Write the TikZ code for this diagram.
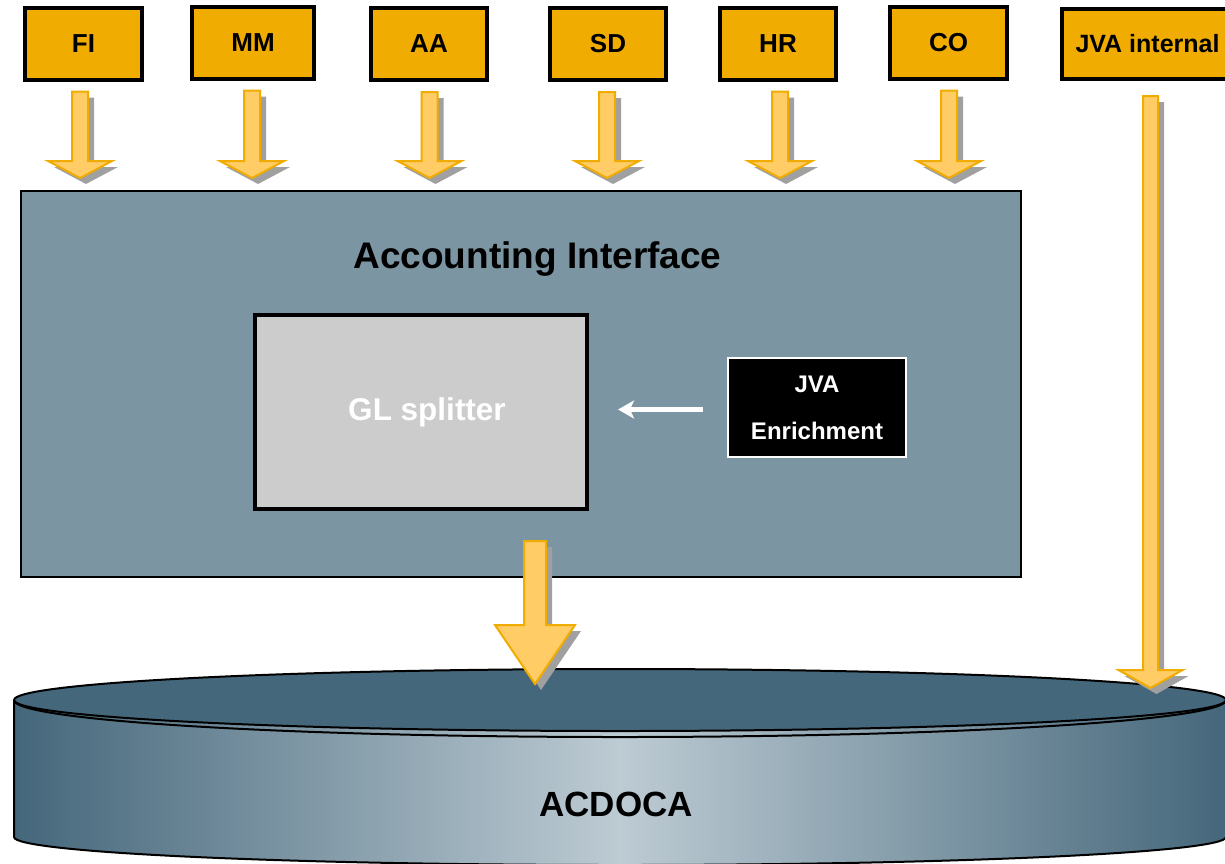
\documentclass[tikz,border=0pt]{standalone}
\usepackage{fontspec}
\setmainfont{Liberation Sans}
\usetikzlibrary{calc,arrows.meta}
\definecolor{boxorange}{HTML}{F0AC00}
\definecolor{arrfill}{HTML}{FFCC66}
\definecolor{shadowgray}{HTML}{A0A0A0}
\definecolor{aifill}{HTML}{7C95A2}
\definecolor{glfill}{HTML}{CCCCCC}
\definecolor{cyldark}{HTML}{45677B}
\definecolor{cyllight}{HTML}{BDCBD3}
\tikzset{
  srcbox/.style={draw=black, line width=4pt, fill=boxorange, minimum height=72pt,
    inner sep=0pt, font=\fontsize{26}{30}\selectfont\bfseries},
  arrbody/.style={fill=arrfill, draw=boxorange, line width=2pt, line join=miter},
  arrshadow/.style={fill=shadowgray},
  aibox/.style={draw=black, line width=2pt, fill=aifill, inner sep=0pt},
  glbox/.style={draw=black, line width=4pt, fill=glfill, inner sep=0pt, text=white,
    font=\fontsize{31.5}{36}\selectfont\bfseries},
  enrbox/.style={draw=white, line width=2pt, fill=black, inner sep=0pt, text=white,
    align=center, font=\fontsize{24}{47}\selectfont\bfseries},
  wharrow/.style={draw=white, line width=4.5pt, -{Stealth[length=16pt,width=18pt,inset=4pt]}},
  cylline/.style={draw=black, line width=2pt},
  bigtext/.style={font=\fontsize{37}{42}\selectfont\bfseries, inner sep=0pt}
}
\newcommand\fatarrow[5]{%
  \fill[arrshadow] let \p1=(#1), \p2=(#2) in
    (\x1-#3pt+6pt,\y1-6pt) -- (\x1+#3pt+6pt,\y1-6pt) -- (\x1+#3pt+6pt,\y2+#5pt-6pt)
    -- (\x1+#4pt+6pt,\y2+#5pt-6pt) -- (\x1+6pt,\y2-6pt) -- (\x1-#4pt+6pt,\y2+#5pt-6pt)
    -- (\x1-#3pt+6pt,\y2+#5pt-6pt) -- cycle;
  \filldraw[arrbody] let \p1=(#1), \p2=(#2) in
    (\x1-#3pt,\y1) -- (\x1+#3pt,\y1) -- (\x1+#3pt,\y2+#5pt)
    -- (\x1+#4pt,\y2+#5pt) -- (\x1,\y2) -- (\x1-#4pt,\y2+#5pt)
    -- (\x1-#3pt,\y2+#5pt) -- cycle;
}
\begin{document}
\begin{tikzpicture}[x=1pt,y=-1pt]
\useasboundingbox (0,0) rectangle (1225,863);
\clip (0,0) rectangle (1225,863);

% source boxes
\node[srcbox, minimum width=117pt] (fi) at (83.5,43.5) {FI};
\node[srcbox, minimum width=122pt] (mm) at (253,42.5) {MM};
\node[srcbox, minimum width=116pt] (aa) at (429,44) {AA};
\node[srcbox, minimum width=116pt] (sd) at (608,44) {SD};
\node[srcbox, minimum width=116pt] (hr) at (778,43.5) {HR};
\node[srcbox, minimum width=117pt] (co) at (948.5,42.5) {CO};
\node[srcbox, minimum width=171pt, minimum height=70pt, font=\fontsize{25}{30}\selectfont\bfseries] (jvai) at (1147.5,44) {JVA internal};

% accounting interface
\node[aibox, minimum width=1000pt, minimum height=386pt] (ai) at (521,384) {};
\node[bigtext, anchor=base] (aititle) at (537.5,268) {Accounting Interface};
\node[glbox, minimum width=332pt, minimum height=194pt] (gl) at (421,412) {\hspace*{12pt}GL splitter};
\node[enrbox, minimum width=178pt, minimum height=99pt] (jvae) at (817,407.5) {JVA\\Enrichment};
\draw[wharrow, shorten <=24pt, shorten >=29pt] ($(jvae.west)+(0,2)$) -- ($(jvae.west -| gl.east)+(0,2)$);

% ACDOCA cylinder
\path[left color=cyldark, right color=cyldark, middle color=cyllight]
  (14,700) -- (14,837) arc[start angle=180, end angle=0, x radius=606, y radius=28]
  -- (1226,700) arc[start angle=0, end angle=180, x radius=606, y radius=31] -- cycle;
\draw[cylline] (14,700) -- (14,837) arc[start angle=180, end angle=0, x radius=606, y radius=28]
  -- (1226,700);
\filldraw[cylline, fill=cyldark] (620,700) ellipse [x radius=606, y radius=31];
\draw[cylline] (14,700) arc[start angle=180, end angle=0, x radius=606, y radius=37];
\node[bigtext, font=\fontsize{35}{40}\selectfont\bfseries] (acdoca) at (616,804) {ACDOCA};

% small arrows into the accounting interface
\foreach \src/\dx in {fi/-3.5, mm/-1, aa/0.5, sd/-1, hr/2, co/0.5}{
  \coordinate (\src top) at ($(\src.south)+(\dx,10)$);
  \coordinate (\src tip) at ($(\src.south |- ai.north)+(\dx,-12)$);
  \fatarrow{\src top}{\src tip}{8}{32}{17}
}

% big arrow from the interface to ACDOCA
\coordinate (bigtop) at ($(ai.south)+(14,-37)$);
\coordinate (bigtip) at ($(ai.south)+(14,106)$);
\fatarrow{bigtop}{bigtip}{11}{40}{59}

% JVA internal arrow directly into ACDOCA
\coordinate (jvatop) at ($(jvai.south)+(3,15)$);
\coordinate (jvatip) at (1150.5,688);
\fatarrow{jvatop}{jvatip}{7.5}{32}{18}
\end{tikzpicture}
\end{document}
